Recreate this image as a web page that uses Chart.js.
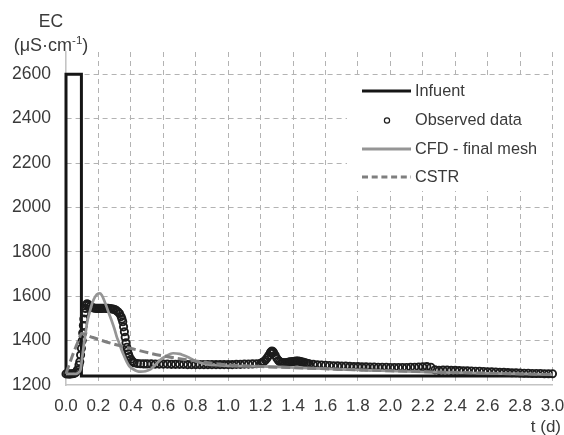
<!DOCTYPE html>
<html>
<head>
<meta charset="utf-8">
<script src="https://cdn.jsdelivr.net/npm/chart.js@4"></script>
<style>
html,body{margin:0;padding:0;background:#fff;}
canvas{display:block;}
</style>
</head>
<body>
<canvas id="c" width="564" height="435"></canvas>
<script>
// ---- data ----
const seriesNames = ["Infuent", "Observed data", "CFD - final mesh", "CSTR"];

const infT  = [0, 0, 0.095, 0.095, 3.0];
const infEC = [1250, 2600, 2600, 1240, 1240];

const obsT = [0.00,0.01,0.02,0.03,0.04,0.05,0.06,0.07,0.08,0.085,0.09,0.095,0.10,0.103,0.107,0.11,0.115,0.12,0.125,0.13,
  0.14,0.15,0.16,0.17,0.18,0.19,0.20,0.21,0.22,0.23,0.24,0.25,0.26,0.27,0.28,0.29,0.30,0.31,0.32,0.33,0.34,0.345,0.35,0.355,
  0.36,0.365,0.37,0.375,0.38,0.385,0.39,0.40,0.41,0.42,0.44,0.46,0.48,
  0.50,0.525,0.55,0.575,0.60,0.625,0.65,0.675,0.70,0.725,0.75,0.775,0.80,0.825,0.85,0.875,0.90,0.925,0.95,0.975,
  1.00,1.025,1.05,1.075,1.10,1.125,1.15,1.175,
  1.20,1.21,1.22,1.23,1.24,1.25,1.26,1.265,1.27,1.275,1.28,1.29,1.30,1.31,1.32,1.33,1.34,1.35,1.36,1.37,1.38,1.39,
  1.40,1.41,1.42,1.43,1.44,1.45,1.46,1.47,1.48,1.49,
  1.500,1.525,1.550,1.575,1.600,1.625,1.650,1.675,1.700,1.725,1.750,1.775,1.800,1.825,1.850,1.875,1.900,1.925,1.950,1.975,
  2.000,2.025,2.050,2.075,2.100,2.125,2.150,2.175,2.200,2.225,2.250,2.275,2.300,2.325,2.350,2.375,2.400,2.425,2.450,2.475,
  2.500,2.525,2.550,2.575,2.600,2.625,2.650,2.675,2.700,2.725,2.750,2.775,2.800,2.825,2.850,2.875,2.900,2.925,2.950,2.975,3.000];
const obsEC = [1250,1250,1249,1250,1251,1252,1256,1268,1290,1305,1335,1365,1400,1434,1468,1497,1525,1545,1560,1566,
  1561,1555,1550,1547,1546,1545,1545,1545,1545,1546,1546,1545,1545,1544,1543,1542,1540,1536,1530,1522,1508,1497,1485,1462,
  1440,1415,1390,1370,1355,1340,1328,1316,1306,1300,1297,1296,1295,
  1295,1295,1294,1294,1294,1294,1293,1293,1293,1293,1292,1292,1292,1292,1292,1292,1292,1292,1292,1292,
  1292,1292,1293,1293,1294,1294,1295,1296,
  1298,1301,1306,1313,1322,1333,1345,1350,1353,1351,1346,1334,1320,1310,1304,1301,1300,1300,1301,1302,1304,1305,
  1306,1307,1308,1308,1307,1305,1303,1301,1299,1297,
  1295,1293,1291,1290,1289,1288,1287,1286,1285,1285,1284,1283,1283,1282,1282,1281,1281,1280,1280,1280,
  1279,1279,1279,1279,1279,1280,1280,1281,1282,1283,1280,1268,1266,1267,1267,1266,1266,1265,1264,1264,
  1263,1262,1262,1261,1260,1259,1258,1257,1257,1256,1255,1255,1254,1253,1253,1252,1252,1252,1251,1251,1251];

const cfdT  = [0,0.05,0.07,0.08,0.09,0.10,0.11,0.12,0.13,0.145,0.16,0.18,0.20,0.21,0.22,0.235,0.25,0.265,0.28,0.30,0.313,0.33,
  0.343,0.36,0.374,0.39,0.415,0.44,0.46,0.49,0.52,0.55,0.58,0.62,0.66,0.70,0.72,0.75,0.785,0.83,0.87,0.95,1.0,1.2,1.3,1.5,1.8,2.0,2.3,2.6,3.0];
const cfdEC = [1250,1250,1252,1258,1270,1327,1380,1430,1480,1525,1565,1598,1612,1613,1605,1582,1553,1522,1493,1450,1417,1385,
  1358,1328,1305,1285,1271,1262,1260,1262,1270,1290,1312,1332,1343,1340,1335,1326,1313,1300,1293,1288,1286,1284,1282,1276,1268,1263,1257,1252,1247];

const cstrT  = [0,0.01,0.02,0.03,0.04,0.05,0.06,0.07,0.08,0.095,0.15,0.21,0.31,0.415,0.52,0.62,0.72,0.83,0.99,1.2,1.4,1.6,1.8,2.0,2.2,2.5,2.8,3.0];
const cstrEC = [1250,1272,1293,1313,1333,1352,1370,1388,1405,1432,1418,1403,1381,1362,1343,1328,1316,1305,1291,1283,1278,1273,1268,1264,1260,1255,1250,1248];

const xTickStep = 0.2, xMin = 0, xMax = 3.0;
const yTickStep = 200, yMin = 1200, yMax = 2700, yTopLabel = 2600;
const yTitle1 = "EC", yTitle2a = "(\u03BCS\u00B7cm", yTitle2sup = "-1", yTitle2b = ")";
const xTitle = "t (d)";

// ---- build ----
const pts = (xs, ys) => xs.map((x, i) => ({x: x, y: ys[i]}));
const FONT = "'Liberation Sans', Arial, sans-serif";
const TXT = '#3a3a3a';

const colors = {inf: '#151515', obs: '#1c1c1c', cfd: '#959595', cstr: '#7f7f7f'};

const legendPlugin = {
  id: 'customLegend',
  afterDraw(chart) {
    const ctx = chart.ctx;
    ctx.save();
    ctx.fillStyle = TXT;
    ctx.textBaseline = 'middle';
    ctx.textAlign = 'center';
    ctx.font = '17.5px ' + FONT;
    ctx.fillText(yTitle1, 51, 22);
    const f1 = '18px ' + FONT, f2 = '11.5px ' + FONT;
    ctx.font = f1; const wA = ctx.measureText(yTitle2a).width; const wB = ctx.measureText(yTitle2b).width;
    ctx.font = f2; const wS = ctx.measureText(yTitle2sup).width;
    let x0 = 51 - (wA + wS + wB) / 2;
    ctx.textAlign = 'left';
    ctx.font = f1; ctx.fillText(yTitle2a, x0, 46);
    ctx.font = f2; ctx.fillText(yTitle2sup, x0 + wA, 41);
    ctx.font = f1; ctx.fillText(yTitle2b, x0 + wA + wS, 46);
    ctx.font = '17px ' + FONT;
    ctx.textAlign = 'right';
    ctx.fillText(xTitle, 561, 427);

    // legend box
    ctx.fillStyle = '#ffffff';
    ctx.fillRect(347, 78, 202, 113);
    const rows = [91, 120, 149, 177];
    const lx1 = 362, lx2 = 411, tx = 415;
    ctx.lineCap = 'butt';
    ctx.strokeStyle = colors.inf; ctx.lineWidth = 3; ctx.setLineDash([]);
    ctx.beginPath(); ctx.moveTo(lx1, rows[0]); ctx.lineTo(lx2, rows[0]); ctx.stroke();
    ctx.strokeStyle = colors.obs; ctx.lineWidth = 1.2;
    ctx.beginPath(); ctx.arc(387, rows[1] + 0.5, 2.6, 0, Math.PI * 2); ctx.stroke();
    ctx.strokeStyle = colors.cfd; ctx.lineWidth = 3;
    ctx.beginPath(); ctx.moveTo(lx1, rows[2]); ctx.lineTo(lx2, rows[2]); ctx.stroke();
    ctx.strokeStyle = colors.cstr; ctx.lineWidth = 3; ctx.setLineDash([6, 3.7]);
    ctx.beginPath(); ctx.moveTo(lx1, rows[3]); ctx.lineTo(lx2, rows[3]); ctx.stroke();
    ctx.setLineDash([]);
    ctx.fillStyle = TXT; ctx.textAlign = 'left'; ctx.font = '16.3px ' + FONT;
    seriesNames.forEach((n, i) => ctx.fillText(n, tx, rows[i] + 0.5));
    ctx.restore();
  }
};

new Chart(document.getElementById('c'), {
  type: 'scatter',
  data: {
    datasets: [
      {label: seriesNames[0], data: pts(infT, infEC), showLine: true, borderColor: colors.inf, borderWidth: 3,
       pointRadius: 0, tension: 0, clip: false, order: 4, borderJoinStyle: 'miter'},
      {label: seriesNames[1], data: pts(obsT, obsEC), showLine: false, pointRadius: 3.6, pointBorderWidth: 1.9,
       pointBorderColor: colors.obs, pointBackgroundColor: 'rgba(0,0,0,0)', clip: false, order: 3},
      {label: seriesNames[2], data: pts(cfdT, cfdEC), showLine: true, borderColor: colors.cfd, borderWidth: 2.7,
       pointRadius: 0, cubicInterpolationMode: 'monotone', clip: false, order: 2},
      {label: seriesNames[3], data: pts(cstrT, cstrEC), showLine: true, borderColor: colors.cstr, borderWidth: 3,
       borderDash: [9, 4], pointRadius: 0, cubicInterpolationMode: 'monotone', clip: false, order: 1}
    ]
  },
  options: {
    responsive: false,
    animation: false,
    events: [],
    layout: {padding: {left: 0, top: 52, right: 11.5, bottom: 0}},
    plugins: {legend: {display: false}, tooltip: {enabled: false}, title: {display: false}},
    scales: {
      x: {
        type: 'linear', min: xMin, max: xMax,
        ticks: {stepSize: xTickStep, color: TXT, font: {family: FONT, size: 17}, padding: 11, maxRotation: 0, autoSkip: false,
                callback: v => Number(v).toFixed(1)},
        grid: {drawTicks: false, lineWidth: 1,
               color: c => (c.tick && Math.abs(c.tick.value - xMin) < 1e-9) ? 'rgba(0,0,0,0)' : '#b3b3b3'},
        border: {display: true, color: '#c4c4c4', width: 1.6, dash: [5, 4]},
        afterFit: s => { s.height = 50; s.paddingLeft = 0; s.paddingRight = 0; }
      },
      y: {
        type: 'linear', min: yMin, max: yMax,
        ticks: {stepSize: yTickStep, color: TXT, font: {family: FONT, size: 17.5}, padding: 15,
                callback: v => String(v)},
        afterBuildTicks: s => { s.ticks = s.ticks.filter(t => t.value <= yTopLabel); },
        grid: {drawTicks: false, lineWidth: 1,
               color: c => (c.tick && c.tick.value === yMin) ? 'rgba(0,0,0,0)' : '#b3b3b3'},
        border: {display: true, color: '#c4c4c4', width: 1.6, dash: [5, 4]},
        afterFit: s => { s.width = 66; }
      }
    }
  },
  plugins: [legendPlugin]
});
</script>
</body>
</html>
